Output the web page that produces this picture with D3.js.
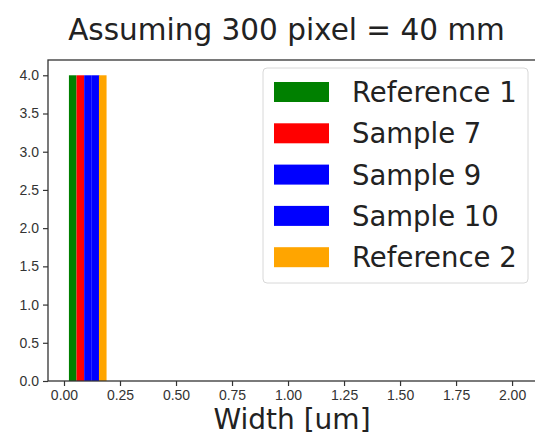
<!DOCTYPE html>
<html>
<head>
<meta charset="utf-8">
<script src="https://cdn.jsdelivr.net/npm/d3@7"></script>
<style>
  body { margin: 0; background: #fff; }
  svg { font-family: "DejaVu Sans", sans-serif; }
  .tick text { fill: #333; }
</style>
</head>
<body>
<svg id="chart" width="535" height="437"></svg>
<script>
// data
const series = ["Reference 1", "Sample 7", "Sample 9", "Sample 10", "Reference 2"];
const colors = ["#008000", "#ff0000", "#0000ff", "#0000ff", "#ffa500"];
const counts = [4, 4, 4, 4, 4];
const barStart = [0.022, 0.056, 0.090, 0.124, 0.156];
const barWidth = 0.034;
const xTicks = [0, 0.25, 0.5, 0.75, 1.0, 1.25, 1.5, 1.75, 2.0];
const yTicks = [0, 0.5, 1.0, 1.5, 2.0, 2.5, 3.0, 3.5, 4.0];

const margin = {top: 60, left: 48, bottom: 381, right: 545};

const svg = d3.select('#chart');

const x = d3.scaleLinear().domain([-0.0714, 2.147]).range([margin.left, margin.right]);
const y = d3.scaleLinear().domain([0, 4.2]).range([margin.bottom, margin.top]);

// bars
svg.selectAll('.bar')
  .data(series)
  .enter().append('rect')
  .attr('class', 'bar')
  .attr('x', (d, i) => x(barStart[i]))
  .attr('width', (d, i) => x(barStart[i] + barWidth) - x(barStart[i]))
  .attr('y', (d, i) => y(counts[i]))
  .attr('height', (d, i) => y(0) - y(counts[i]))
  .attr('fill', (d, i) => colors[i]);

// axes
const xAxis = svg.append('g')
  .attr('transform', 'translate(0,' + margin.bottom + ')')
  .call(d3.axisBottom(x).tickValues(xTicks).tickFormat(d3.format('.2f')).tickSizeOuter(0).tickSize(5).tickPadding(4));
xAxis.selectAll('text').attr('font-size', 14);

const yAxis = svg.append('g')
  .attr('transform', 'translate(' + margin.left + ',0)')
  .call(d3.axisLeft(y).tickValues(yTicks).tickFormat(d3.format('.1f')).tickSizeOuter(0).tickSize(5).tickPadding(4));
yAxis.selectAll('text').attr('font-size', 14);

svg.selectAll('.domain').remove();
svg.selectAll('.tick line').attr('stroke', '#333').attr('stroke-width', 1.2);

// spines
svg.append('rect')
  .attr('x', margin.left)
  .attr('y', margin.top)
  .attr('width', margin.right - margin.left)
  .attr('height', margin.bottom - margin.top)
  .attr('fill', 'none')
  .attr('stroke', '#333')
  .attr('stroke-width', 1.3);

// title and label
svg.append('text')
  .attr('x', 286.5).attr('y', 40)
  .attr('text-anchor', 'middle')
  .attr('font-size', 29.5)
  .attr('fill', '#222')
  .text('Assuming 300 pixel = 40 mm');

svg.append('text')
  .attr('x', 292).attr('y', 429)
  .attr('text-anchor', 'middle')
  .attr('font-size', 28)
  .attr('fill', '#222')
  .text('Width [um]');

// legend
const legend = svg.append('g').attr('transform', 'translate(263,68)');
legend.append('rect')
  .attr('width', 265).attr('height', 215)
  .attr('rx', 4)
  .attr('fill', '#fff').attr('fill-opacity', 0.8)
  .attr('stroke', '#d8d8d8');

const item = legend.selectAll('.leg')
  .data(series)
  .enter().append('g')
  .attr('class', 'leg')
  .attr('transform', (d, i) => 'translate(0,' + (24 + i * 41.3) + ')');

item.append('rect')
  .attr('x', 11).attr('y', -10)
  .attr('width', 55).attr('height', 20)
  .attr('fill', (d, i) => colors[i]);

item.append('text')
  .attr('x', 89).attr('y', 10)
  .attr('font-size', 27.5)
  .attr('fill', '#222')
  .text(d => d);
</script>
</body>
</html>
